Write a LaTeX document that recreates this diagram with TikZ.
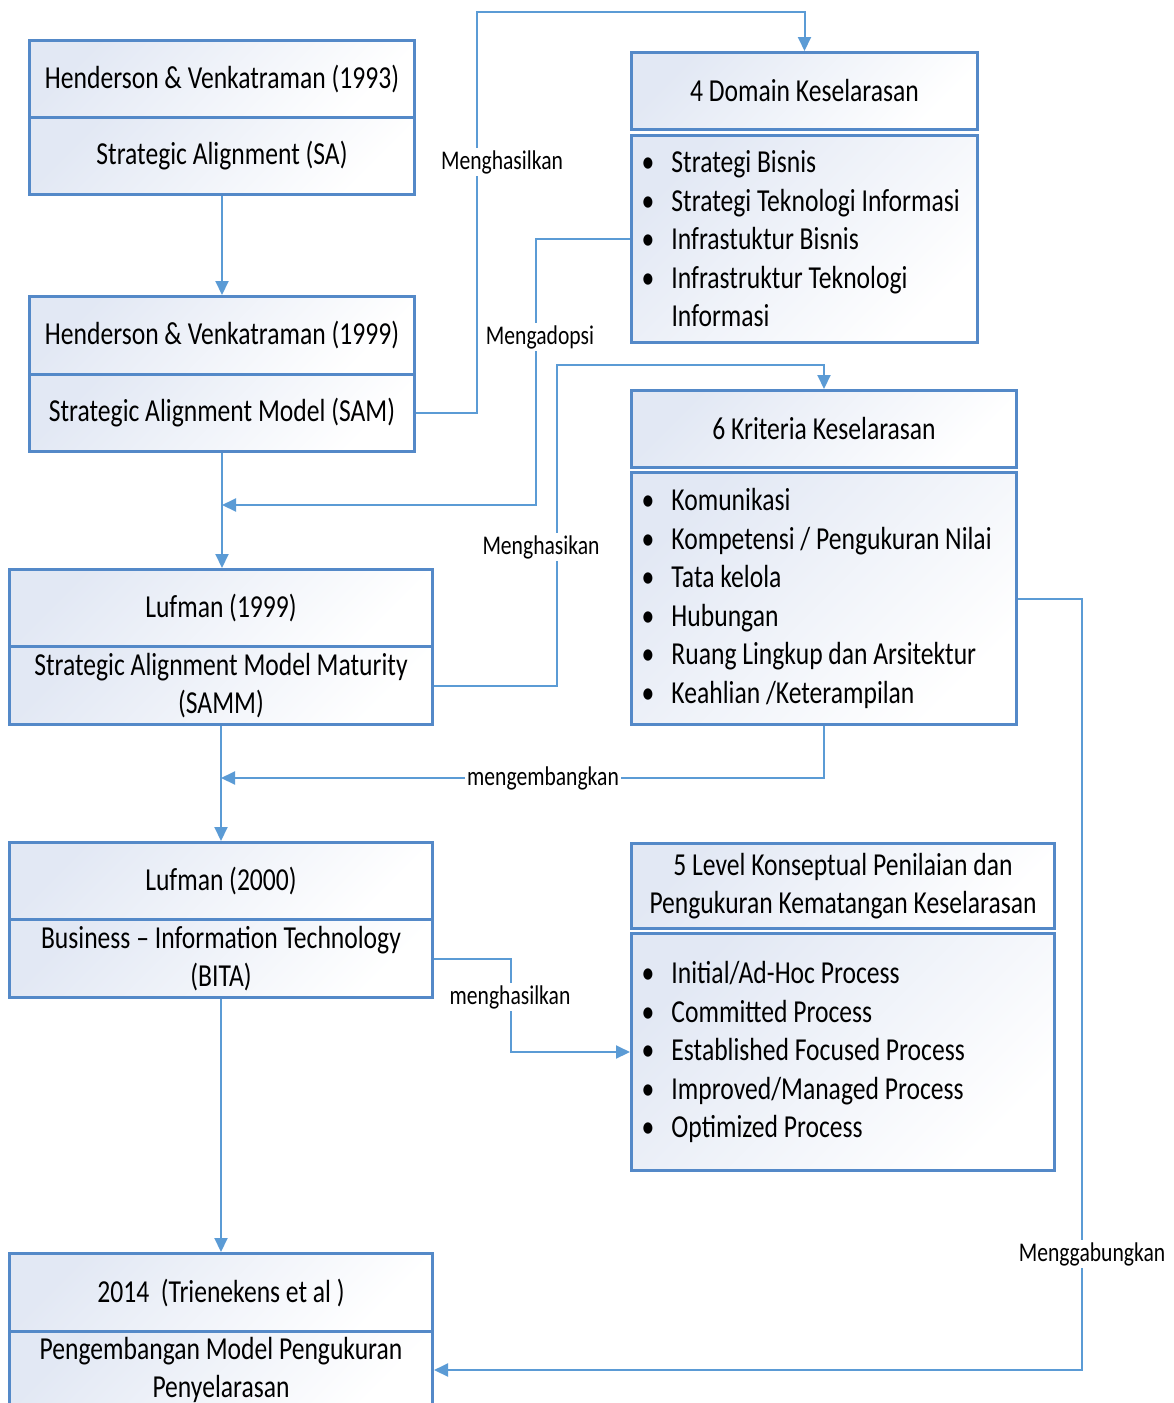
\documentclass[tikz,border=0pt]{standalone}
\usepackage{fontspec}
\setmainfont{Carlito}[FakeStretch=0.8]
\usetikzlibrary{arrows.meta}
\definecolor{boxline}{RGB}{84,137,200}
\definecolor{linkline}{RGB}{91,155,213}
\definecolor{boxtint}{RGB}{226,232,244}
\newcommand{\bul}{\makebox[30pt][l]{\textbullet}}
\newcommand{\gap}{\hspace*{30pt}}
\tikzset{
  part/.style={draw=boxline, line width=3pt, top color=boxtint, middle color=boxtint!25!white,
    bottom color=white, shading angle=45, anchor=north west, inner sep=0pt, align=center,
    font=\fontsize{32}{38.5}\selectfont},
  list/.style={part, align=flush left, inner xsep=10pt},
  link/.style={draw=linkline, line width=2pt},
  arrow/.style={link, -{Triangle[length=14pt,width=13pt]}},
  tag/.style={fill=white, inner sep=2pt, font=\fontsize{27}{31}\selectfont}
}

\begin{document}
\begin{tikzpicture}[x=1pt, y=-1pt]
    \clip (0,0) rectangle (1174,1403);

    % left column
    \node[part, minimum width=385pt, minimum height=77pt] (hvA) at (28,39) {Henderson \& Venkatraman (1993)};
    \node[part, minimum width=385pt, minimum height=77pt] (hvAsub) at (28,116) {Strategic Alignment (SA)};
    \node[part, minimum width=385pt, minimum height=78pt] (hvB) at (28,295) {Henderson \& Venkatraman (1999)};
    \node[part, minimum width=385pt, minimum height=77pt] (hvBsub) at (28,373) {Strategic Alignment Model (SAM)};
    \node[part, minimum width=423pt, minimum height=77pt] (lufA) at (8,568) {Lufman (1999)};
    \node[part, minimum width=423pt, minimum height=78pt] (lufAsub) at (8,645) {Strategic Alignment Model Maturity\\(SAMM)};
    \node[part, minimum width=423pt, minimum height=77pt] (lufB) at (8,841) {Lufman (2000)};
    \node[part, minimum width=423pt, minimum height=78pt] (lufBsub) at (8,918) {Business -- Information Technology\\(BITA)};
    \node[part, minimum width=423pt, minimum height=78pt] (tri) at (8,1252) {2014~~(Trienekens et al )};
    \node[part, minimum width=423pt, minimum height=77pt] (trisub) at (8,1330) {Pengembangan Model Pengukuran\\Penyelarasan};

    % right column
    \node[part, minimum width=346pt, minimum height=77pt] (domain) at (630,51) {4 Domain Keselarasan};
    \node[list, minimum width=346pt, minimum height=207pt, text width=326pt] (domainlist) at (630,134)
        {\bul Strategi Bisnis\\ \bul Strategi Teknologi Informasi\\ \bul Infrastuktur Bisnis\\
         \bul Infrastruktur Teknologi\\ \gap Informasi};
    \node[part, minimum width=385pt, minimum height=77pt] (kriteria) at (630,389) {6 Kriteria Keselarasan};
    \node[list, minimum width=385pt, minimum height=252pt, text width=365pt] (kriterialist) at (630,471)
        {\bul Komunikasi\\ \bul Kompetensi / Pengukuran Nilai\\ \bul Tata kelola\\ \bul Hubungan\\
         \bul Ruang Lingkup dan Arsitektur\\ \bul Keahlian /Keterampilan};
    \node[part, minimum width=423pt, minimum height=85pt] (level) at (630,842)
        {5 Level Konseptual Penilaian dan\\Pengukuran Kematangan Keselarasan};
    \node[list, minimum width=423pt, minimum height=237pt, text width=403pt] (levellist) at (630,932)
        {\bul Initial/Ad-Hoc Process\\ \bul Committed Process\\ \bul Established Focused Process\\
         \bul Improved/Managed Process\\ \bul Optimized Process};

    % connectors
    \coordinate (bendA) at (477,12);
    \coordinate (bendB) at (536,505);
    \coordinate (bendC) at (557,365);
    \coordinate (bendD) at (822.5,778);
    \coordinate (bendE) at (511,1051);
    \coordinate (bendF) at (1082,597);

    \draw[arrow] (hvAsub.south) -- (hvB.north);
    \draw[arrow] (hvBsub.south) -- (hvBsub.south |- lufA.north);
    \draw[arrow] (lufAsub.south) -- (lufB.north);
    \draw[arrow] (lufBsub.south) -- (tri.north);
    \draw[arrow] (hvBsub.east) -| (bendA) -| (domain.north);
    \draw[arrow] (domainlist.west) -| (bendB) -- (bendB -| hvBsub.south);
    \draw[arrow] (lufAsub.east) -| (bendC) -| (kriteria.north);
    \draw[arrow] (kriterialist.south) |- (bendD -| lufAsub.south);
    \draw[arrow] (lufBsub.east) -| (bendE) |- (levellist.west);
    \draw[arrow] (kriterialist.east) -- (kriterialist.east -| bendF) |- (trisub.east);

    % labels
    \node[tag] (tagA) at (502,162) {Menghasilkan};
    \node[tag] (tagB) at (540,337) {Mengadopsi};
    \node[tag] (tagC) at (541,547) {Menghasikan};
    \node[tag] (tagD) at (543,778) {mengembangkan};
    \node[tag] (tagE) at (510,997) {menghasilkan};
    \node[tag] (tagF) at (1092,1254) {Menggabungkan};
\end{tikzpicture}
\end{document}
